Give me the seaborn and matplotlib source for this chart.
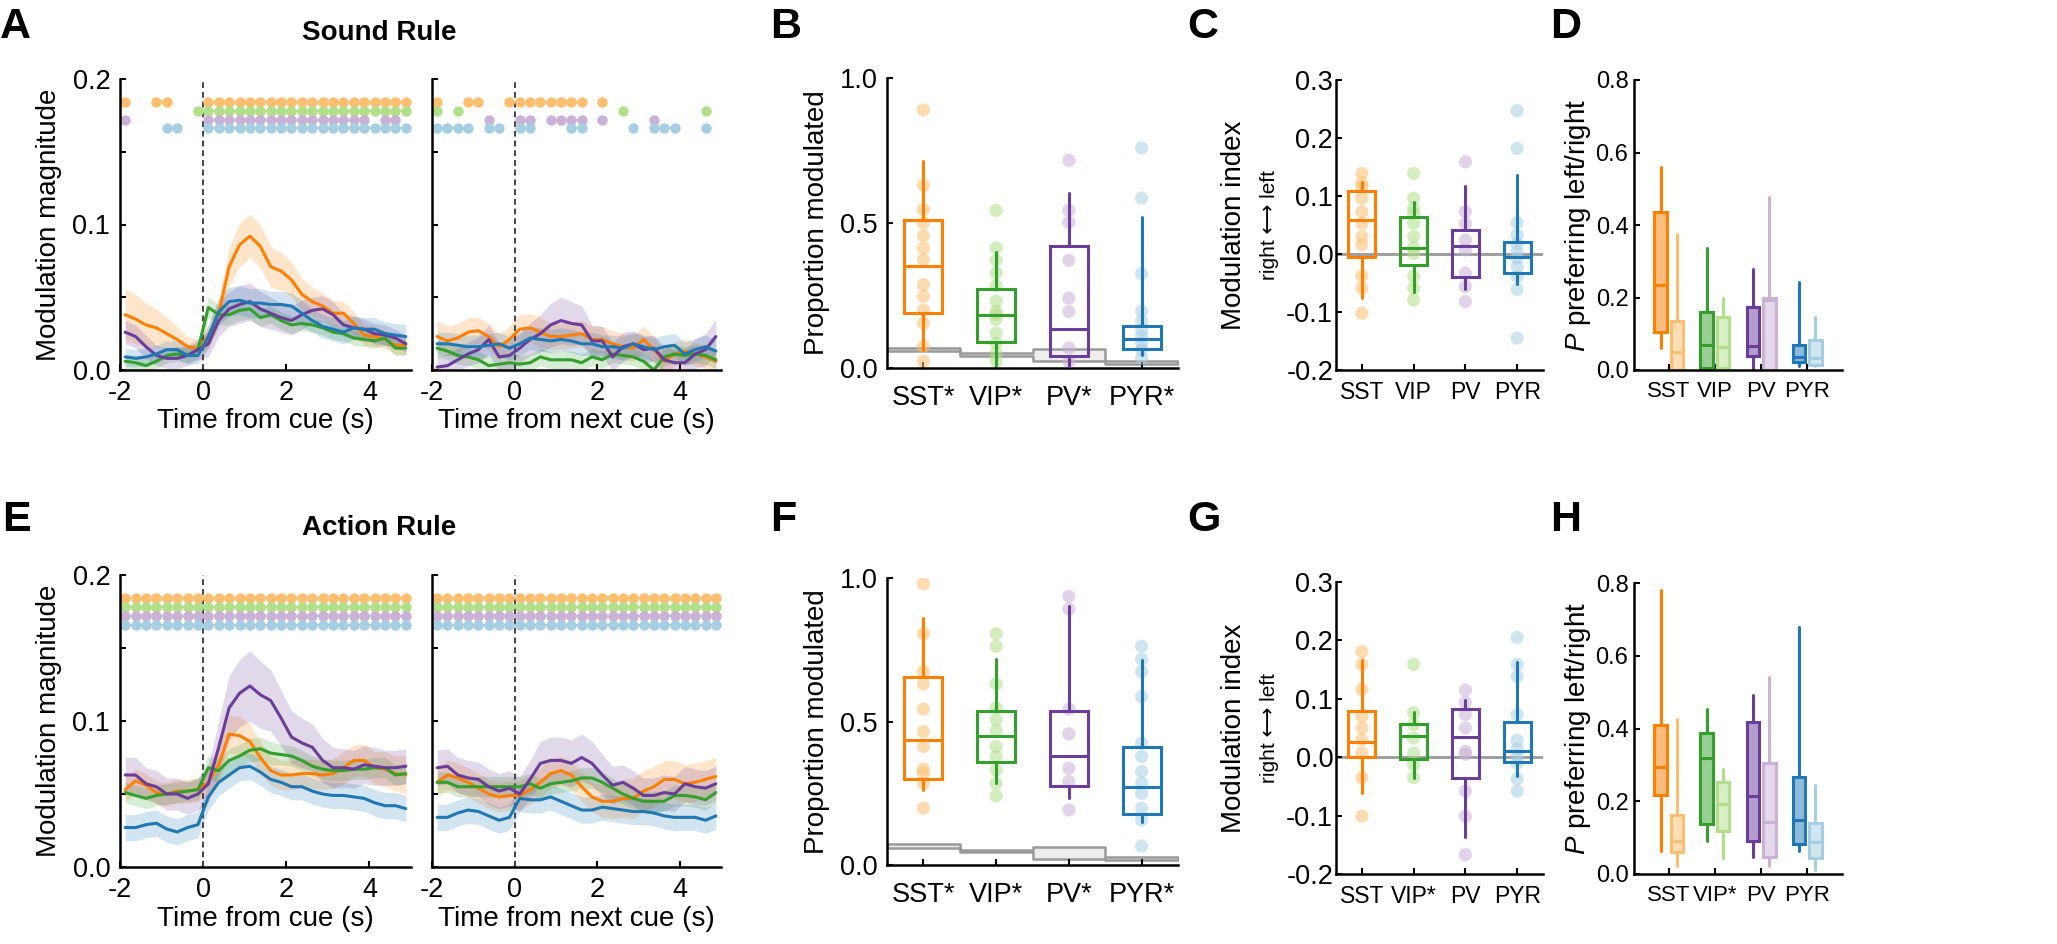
import numpy as np
import pandas as pd
import matplotlib
matplotlib.use("Agg")
import matplotlib.pyplot as plt
from matplotlib.colors import to_rgba
from matplotlib.ticker import FixedLocator
import seaborn as sns

cells = ["SST", "VIP", "PV", "PYR"]
dark = ["#ff7f00", "#33a02c", "#6a3d9a", "#1f78b4"]
light = ["#fdbf6f", "#b2df8a", "#cab2d6", "#a6cee3"]

# time bins (s), 0.25 s bins
t = np.arange(-1.875, 5.0, 0.25)

# ---------------- A: sound rule, aligned to cue ----------------
a_sst = [0.038, 0.035, 0.031, 0.029, 0.025, 0.021, 0.016, 0.015, 0.023, 0.039, 0.071, 0.086, 0.092, 0.085,
         0.071, 0.068, 0.062, 0.052, 0.047, 0.044, 0.039, 0.039, 0.032, 0.024, 0.023, 0.021, 0.017, 0.017]
a_vip = [0.006, 0.005, 0.003, 0.006, 0.010, 0.011, 0.010, 0.014, 0.043, 0.038, 0.038, 0.041, 0.042, 0.036,
         0.038, 0.034, 0.031, 0.032, 0.031, 0.029, 0.026, 0.025, 0.022, 0.021, 0.020, 0.022, 0.015, 0.015]
a_pv = [0.026, 0.023, 0.016, 0.010, 0.008, 0.008, 0.010, 0.014, 0.018, 0.034, 0.042, 0.045, 0.047, 0.042,
        0.039, 0.036, 0.034, 0.038, 0.041, 0.042, 0.038, 0.031, 0.029, 0.028, 0.025, 0.024, 0.022, 0.018]
a_pyr = [0.009, 0.008, 0.009, 0.011, 0.014, 0.014, 0.010, 0.010, 0.023, 0.040, 0.047, 0.048, 0.046, 0.046,
         0.045, 0.045, 0.044, 0.039, 0.034, 0.030, 0.028, 0.026, 0.029, 0.028, 0.028, 0.025, 0.024, 0.023]
a_sst_err = [0.018, 0.017, 0.015, 0.013, 0.011, 0.009, 0.007, 0.006, 0.008, 0.010, 0.013, 0.015, 0.015, 0.015,
             0.014, 0.013, 0.012, 0.011, 0.010, 0.009, 0.009, 0.008, 0.008, 0.007, 0.007, 0.006, 0.006, 0.006]
a_vip_err = [0.005, 0.005, 0.005, 0.005, 0.005, 0.005, 0.005, 0.006, 0.007, 0.007, 0.007, 0.007, 0.007, 0.006,
             0.006, 0.006, 0.006, 0.005, 0.005, 0.005, 0.005, 0.005, 0.005, 0.005, 0.005, 0.005, 0.005, 0.005]
a_pv_err = [0.008, 0.008, 0.008, 0.007, 0.007, 0.007, 0.007, 0.007, 0.009, 0.011, 0.012, 0.013, 0.013, 0.012,
            0.011, 0.010, 0.010, 0.010, 0.009, 0.009, 0.009, 0.008, 0.008, 0.007, 0.007, 0.007, 0.006, 0.006]
a_pyr_err = [0.006, 0.006, 0.006, 0.006, 0.006, 0.006, 0.006, 0.006, 0.008, 0.009, 0.010, 0.010, 0.010, 0.010,
             0.009, 0.009, 0.009, 0.009, 0.008, 0.008, 0.008, 0.008, 0.008, 0.008, 0.008, 0.008, 0.008, 0.008]
a_sig_sst = [0, 3, 4] + list(range(8, 28))
a_sig_vip = list(range(7, 28))
a_sig_pv = [0] + list(range(8, 24)) + [25, 26]
a_sig_pyr = [4, 5] + list(range(8, 28))

# ---------------- A: sound rule, aligned to next cue ----------------
a2_sst = [0.023, 0.020, 0.022, 0.026, 0.027, 0.023, 0.016, 0.021, 0.028, 0.029, 0.026, 0.023, 0.023, 0.024,
          0.025, 0.021, 0.021, 0.018, 0.016, 0.015, 0.021, 0.014, 0.006, 0.011, 0.013, 0.011, 0.009, 0.006]
a2_vip = [0.015, 0.013, 0.010, 0.009, 0.007, 0.003, 0.004, 0.005, 0.004, 0.005, 0.009, 0.007, 0.007, 0.007,
          0.005, 0.009, 0.007, 0.011, 0.010, 0.009, 0.006, 0.000, 0.009, 0.011, 0.010, 0.011, 0.010, 0.007]
a2_pv = [0.002, 0.003, 0.007, 0.011, 0.014, 0.021, 0.009, 0.010, 0.015, 0.021, 0.025, 0.031, 0.034, 0.032,
         0.031, 0.020, 0.020, 0.009, 0.016, 0.018, 0.014, 0.015, 0.007, 0.005, 0.005, 0.011, 0.014, 0.023]
a2_pyr = [0.018, 0.018, 0.017, 0.016, 0.016, 0.017, 0.018, 0.015, 0.018, 0.022, 0.021, 0.020, 0.021, 0.020,
          0.018, 0.018, 0.016, 0.016, 0.015, 0.018, 0.016, 0.014, 0.016, 0.017, 0.011, 0.014, 0.016, 0.013]
a2_sst_err = [0.011, 0.010, 0.010, 0.010, 0.009, 0.009, 0.009, 0.009, 0.010, 0.010, 0.010, 0.009, 0.009, 0.009,
              0.009, 0.009, 0.009, 0.009, 0.009, 0.009, 0.009, 0.009, 0.008, 0.008, 0.008, 0.008, 0.008, 0.008]
a2_vip_err = [0.006, 0.006, 0.006, 0.006, 0.006, 0.006, 0.006, 0.006, 0.006, 0.006, 0.006, 0.006, 0.006, 0.006,
              0.006, 0.006, 0.006, 0.006, 0.006, 0.006, 0.006, 0.006, 0.006, 0.006, 0.006, 0.006, 0.006, 0.006]
a2_pv_err = [0.008, 0.008, 0.008, 0.008, 0.009, 0.010, 0.010, 0.010, 0.010, 0.011, 0.013, 0.015, 0.016, 0.015,
             0.013, 0.011, 0.010, 0.010, 0.010, 0.009, 0.009, 0.009, 0.009, 0.009, 0.009, 0.010, 0.011, 0.012]
a2_pyr_err = [0.008, 0.008, 0.008, 0.008, 0.008, 0.008, 0.008, 0.008, 0.008, 0.008, 0.008, 0.008, 0.008, 0.008,
              0.008, 0.008, 0.008, 0.008, 0.008, 0.008, 0.008, 0.008, 0.008, 0.008, 0.008, 0.008, 0.008, 0.008]
a2_sig_sst = [0, 3, 4] + list(range(7, 15)) + [16]
a2_sig_vip = [0, 2, 18, 26]
a2_sig_pv = [5, 8, 9, 11, 12, 13, 14, 16, 21]
a2_sig_pyr = [0, 1, 2, 3, 5, 6, 8, 9, 13, 14, 19, 21, 22, 23, 26]

# ---------------- E: action rule, aligned to cue ----------------
e_sst = [0.053, 0.059, 0.056, 0.051, 0.050, 0.052, 0.052, 0.053, 0.058, 0.070, 0.091, 0.090, 0.086, 0.075,
         0.066, 0.063, 0.063, 0.064, 0.064, 0.063, 0.064, 0.068, 0.073, 0.073, 0.068, 0.067, 0.064, 0.063]
e_vip = [0.051, 0.049, 0.047, 0.049, 0.050, 0.051, 0.052, 0.053, 0.068, 0.066, 0.073, 0.076, 0.080, 0.081,
         0.078, 0.077, 0.076, 0.073, 0.069, 0.067, 0.066, 0.066, 0.067, 0.067, 0.068, 0.068, 0.063, 0.064]
e_pv = [0.063, 0.063, 0.057, 0.055, 0.050, 0.050, 0.047, 0.050, 0.057, 0.082, 0.109, 0.119, 0.124, 0.118,
        0.114, 0.102, 0.089, 0.085, 0.082, 0.073, 0.068, 0.068, 0.067, 0.070, 0.069, 0.068, 0.068, 0.069]
e_pyr = [0.027, 0.027, 0.029, 0.030, 0.026, 0.024, 0.027, 0.029, 0.048, 0.058, 0.063, 0.068, 0.069, 0.065,
         0.060, 0.058, 0.055, 0.055, 0.052, 0.050, 0.049, 0.049, 0.048, 0.047, 0.044, 0.042, 0.042, 0.040]
e_sst_err = [0.008, 0.008, 0.008, 0.008, 0.008, 0.008, 0.008, 0.008, 0.009, 0.011, 0.013, 0.013, 0.012, 0.011,
             0.010, 0.010, 0.010, 0.010, 0.010, 0.010, 0.010, 0.011, 0.011, 0.011, 0.011, 0.012, 0.012, 0.013]
e_vip_err = [0.007, 0.007, 0.007, 0.007, 0.007, 0.007, 0.007, 0.007, 0.008, 0.008, 0.008, 0.008, 0.008, 0.008,
             0.008, 0.007, 0.007, 0.007, 0.007, 0.007, 0.007, 0.007, 0.007, 0.007, 0.007, 0.007, 0.007, 0.007]
e_pv_err = [0.012, 0.012, 0.011, 0.011, 0.011, 0.011, 0.011, 0.011, 0.013, 0.018, 0.022, 0.023, 0.024, 0.023,
            0.021, 0.019, 0.018, 0.017, 0.016, 0.015, 0.014, 0.013, 0.013, 0.013, 0.013, 0.012, 0.012, 0.012]
e_pyr_err = [0.009, 0.009, 0.009, 0.009, 0.009, 0.009, 0.009, 0.009, 0.009, 0.009, 0.009, 0.009, 0.009, 0.009,
             0.009, 0.009, 0.009, 0.009, 0.009, 0.009, 0.009, 0.009, 0.009, 0.009, 0.009, 0.009, 0.009, 0.009]
e_sig_sst = list(range(28))
e_sig_vip = list(range(28))
e_sig_pv = list(range(28))
e_sig_pyr = list(range(28))

# ---------------- E: action rule, aligned to next cue ----------------
e2_sst = [0.058, 0.063, 0.061, 0.058, 0.054, 0.050, 0.048, 0.049, 0.049, 0.053, 0.058, 0.064, 0.066, 0.063,
          0.055, 0.048, 0.045, 0.045, 0.047, 0.047, 0.052, 0.055, 0.060, 0.060, 0.057, 0.058, 0.060, 0.062]
e2_vip = [0.058, 0.058, 0.055, 0.055, 0.055, 0.055, 0.055, 0.055, 0.055, 0.057, 0.054, 0.057, 0.058, 0.059,
          0.061, 0.061, 0.058, 0.054, 0.050, 0.047, 0.045, 0.045, 0.045, 0.049, 0.049, 0.048, 0.046, 0.051]
e2_pv = [0.068, 0.069, 0.063, 0.061, 0.060, 0.055, 0.052, 0.054, 0.050, 0.060, 0.071, 0.073, 0.073, 0.071,
         0.075, 0.071, 0.063, 0.056, 0.058, 0.054, 0.049, 0.049, 0.051, 0.050, 0.057, 0.055, 0.054, 0.057]
e2_pyr = [0.034, 0.034, 0.037, 0.039, 0.038, 0.035, 0.032, 0.034, 0.047, 0.046, 0.046, 0.048, 0.045, 0.042,
          0.039, 0.039, 0.041, 0.040, 0.039, 0.038, 0.038, 0.037, 0.035, 0.034, 0.034, 0.034, 0.032, 0.035]
e2_sst_err = [0.010, 0.010, 0.010, 0.010, 0.010, 0.010, 0.010, 0.010, 0.010, 0.010, 0.010, 0.010, 0.010, 0.010,
              0.010, 0.010, 0.011, 0.012, 0.013, 0.014, 0.014, 0.014, 0.013, 0.013, 0.013, 0.013, 0.013, 0.013]
e2_vip_err = [0.007, 0.007, 0.007, 0.007, 0.007, 0.007, 0.007, 0.007, 0.007, 0.007, 0.007, 0.007, 0.007, 0.007,
              0.007, 0.007, 0.007, 0.007, 0.007, 0.007, 0.007, 0.007, 0.007, 0.007, 0.007, 0.007, 0.007, 0.007]
e2_pv_err = [0.012, 0.012, 0.012, 0.012, 0.012, 0.012, 0.012, 0.012, 0.012, 0.013, 0.015, 0.016, 0.016, 0.016,
             0.016, 0.015, 0.014, 0.013, 0.012, 0.012, 0.012, 0.012, 0.012, 0.012, 0.012, 0.012, 0.012, 0.012]
e2_pyr_err = [0.009, 0.009, 0.009, 0.009, 0.009, 0.009, 0.009, 0.009, 0.009, 0.009, 0.009, 0.009, 0.009, 0.009,
              0.009, 0.009, 0.009, 0.009, 0.009, 0.009, 0.009, 0.009, 0.009, 0.009, 0.009, 0.009, 0.009, 0.009]
e2_sig_sst = list(range(28))
e2_sig_vip = list(range(28))
e2_sig_pv = list(range(28))
e2_sig_pyr = list(range(28))

# y level of significance dot rows (SST, VIP, PV, PYR)
sig_levels = [0.184, 0.178, 0.172, 0.166]

# ---------------- B: proportion modulated, sound rule ----------------
b_pts_sst = [0.89, 0.63, 0.546, 0.50, 0.456, 0.414, 0.374, 0.287, 0.247, 0.20, 0.155, 0.075, 0.023]
b_pts_vip = [0.543, 0.414, 0.371, 0.328, 0.284, 0.23, 0.195, 0.184, 0.167, 0.121, 0.086, 0.052, 0.023]
b_pts_pv = [0.716, 0.544, 0.502, 0.371, 0.241, 0.195, 0.069, 0.023]
b_pts_pyr = [0.759, 0.586, 0.325, 0.195, 0.161, 0.132, 0.109, 0.086, 0.063, 0.034]
b_q1 = [0.19, 0.089, 0.043, 0.066]
b_med = [0.353, 0.184, 0.134, 0.10]
b_q3 = [0.509, 0.272, 0.42, 0.144]
b_lo = [0.063, 0.011, 0.0, 0.046]
b_hi = [0.713, 0.40, 0.603, 0.521]
b_chance_lo = [0.057, 0.042, 0.023, 0.015]
b_chance_hi = [0.069, 0.052, 0.065, 0.025]
b_labels = ["SST*", "VIP*", "PV*", "PYR*"]

# ---------------- C: modulation index, sound rule ----------------
c_pts_sst = [0.139, 0.122, 0.116, 0.096, 0.073, 0.053, 0.03, 0.016, -0.038, -0.059, -0.102]
c_pts_vip = [0.139, 0.096, 0.079, 0.07, 0.053, 0.03, 0.011, 0.001, -0.039, -0.059, -0.079]
c_pts_pv = [0.159, 0.073, 0.052, 0.024, 0.007, -0.033, -0.056, -0.082]
c_pts_pyr = [0.247, 0.182, 0.054, 0.033, 0.018, 0.004, -0.007, -0.022, -0.039, -0.061, -0.145]
c_q1 = [-0.006, -0.019, -0.039, -0.032]
c_med = [0.059, 0.011, 0.013, -0.006]
c_q3 = [0.109, 0.064, 0.041, 0.020]
c_lo = [-0.076, -0.065, -0.061, -0.052]
c_hi = [0.125, 0.089, 0.118, 0.137]
c_labels = ["SST", "VIP", "PV", "PYR"]

# ---------------- D: P preferring left/right, sound rule ----------------
d_left_q1 = [0.106, 0.005, 0.04, 0.021]
d_left_med = [0.234, 0.069, 0.066, 0.035]
d_left_q3 = [0.437, 0.159, 0.175, 0.069]
d_left_lo = [0.06, 0.003, 0.0, 0.011]
d_left_hi = [0.561, 0.336, 0.28, 0.244]
d_right_q1 = [0.0, 0.005, 0.0, 0.014]
d_right_med = [0.051, 0.063, 0.193, 0.032]
d_right_q3 = [0.136, 0.147, 0.20, 0.083]
d_right_lo = [0.0, 0.0, 0.0, 0.011]
d_right_hi = [0.374, 0.198, 0.478, 0.145]
d_labels = ["SST", "VIP", "PV", "PYR"]

# ---------------- F: proportion modulated, action rule ----------------
f_pts_sst = [0.98, 0.806, 0.674, 0.631, 0.543, 0.465, 0.413, 0.334, 0.32, 0.285, 0.198]
f_pts_vip = [0.806, 0.762, 0.631, 0.547, 0.506, 0.469, 0.413, 0.378, 0.331, 0.285, 0.241]
f_pts_pv = [0.936, 0.892, 0.543, 0.457, 0.337, 0.291, 0.192]
f_pts_pyr = [0.762, 0.717, 0.674, 0.587, 0.424, 0.378, 0.326, 0.285, 0.25, 0.198, 0.157, 0.066]
f_q1 = [0.299, 0.36, 0.276, 0.178]
f_med = [0.436, 0.448, 0.38, 0.271]
f_q3 = [0.655, 0.538, 0.538, 0.41]
f_lo = [0.262, 0.285, 0.233, 0.151]
f_hi = [0.86, 0.719, 0.903, 0.715]
f_chance_lo = [0.060, 0.046, 0.020, 0.017]
f_chance_hi = [0.073, 0.052, 0.064, 0.029]
f_labels = ["SST*", "VIP*", "PV*", "PYR*"]

# ---------------- G: modulation index, action rule ----------------
g_pts_sst = [0.181, 0.159, 0.116, 0.07, 0.05, 0.03, 0.007, -0.035, -0.101]
g_pts_vip = [0.159, 0.076, 0.056, 0.033, 0.007, -0.013, -0.035]
g_pts_pv = [0.115, 0.094, 0.073, 0.05, 0.01, 0.005, -0.058, -0.101, -0.167]
g_pts_pyr = [0.205, 0.159, 0.138, 0.073, 0.029, 0.014, 0.002, -0.01, -0.037, -0.058]
g_q1 = [0.0, -0.003, -0.035, -0.009]
g_med = [0.026, 0.036, 0.035, 0.010]
g_q3 = [0.079, 0.056, 0.083, 0.061]
g_lo = [-0.062, -0.035, -0.137, -0.033]
g_hi = [0.167, 0.078, 0.098, 0.163]
g_labels = ["SST", "VIP*", "PV", "PYR"]

# ---------------- H: P preferring left/right, action rule ----------------
h_left_q1 = [0.216, 0.137, 0.09, 0.082]
h_left_med = [0.295, 0.32, 0.215, 0.149]
h_left_q3 = [0.41, 0.387, 0.419, 0.268]
h_left_lo = [0.064, 0.09, 0.046, 0.062]
h_left_hi = [0.782, 0.453, 0.492, 0.679]
h_right_q1 = [0.06, 0.117, 0.048, 0.044]
h_right_med = [0.092, 0.193, 0.142, 0.087]
h_right_q3 = [0.161, 0.254, 0.306, 0.14]
h_right_lo = [0.023, 0.044, 0.023, 0.012]
h_right_hi = [0.425, 0.29, 0.542, 0.245]
h_labels = ["SST", "VIP*", "PV", "PYR"]

# ---------------- style ----------------
sns.set_theme(style="ticks")
plt.rcParams["font.family"] = ["Liberation Sans", "DejaVu Sans"]
plt.rcParams.update({
    "axes.unicode_minus": False,
    "axes.edgecolor": "black", "axes.labelcolor": "black", "text.color": "black",
    "xtick.color": "black", "ytick.color": "black",
    "xtick.direction": "in", "ytick.direction": "in",
    "xtick.major.size": 4, "ytick.major.size": 4,
    "ytick.minor.size": 4, "ytick.minor.width": 1.5,
    "xtick.major.width": 1.5, "ytick.major.width": 1.5,
    "xtick.major.pad": 7, "ytick.major.pad": 7,
    "axes.linewidth": 1.8,
    "xtick.labelsize": 19.5, "ytick.labelsize": 19.5,
    "axes.labelsize": 20,
    "mathtext.fontset": "custom",
    "mathtext.it": "Liberation Sans:italic",
    "mathtext.rm": "Liberation Sans",
})

W, H = 2057, 944
fig = plt.figure(figsize=(W / 100, H / 100), dpi=100)


def add_ax(x0, x1, ytop, ybot):
    return fig.add_axes([x0 / W, 1 - ybot / H, (x1 - x0) / W, (ybot - ytop) / H])


def time_panel(ax, means, errs, sigs, xlabel, ylabel):
    for m, e, c in zip(means, errs, dark):
        m = np.array(m)
        e = np.array(e)
        ax.fill_between(t, m - e, m + e, color=c, alpha=0.2, lw=0)
        sns.lineplot(x=t, y=m, color=c, lw=2.2, ax=ax)
    ax.axvline(0, color="#444444", ls=(0, (3, 2)), lw=1.4, zorder=1)
    for rows, lev, c in zip(sigs, sig_levels, light):
        y = np.full(len(t), np.nan)
        y[rows] = lev
        ax.plot(t, y, "o-", color=c, ms=7.5, lw=1.5, mew=0)
    ax.set_xlim(-2, 5)
    ax.set_ylim(0, 0.2)
    ax.set_xticks([-2, 0, 2, 4])
    ax.set_yticks([0, 0.1, 0.2])
    ax.yaxis.set_minor_locator(FixedLocator([0.05, 0.15]))
    if ylabel:
        ax.set_yticklabels(["0.0", "0.1", "0.2"])
        ax.set_ylabel("Modulation magnitude")
        ax.yaxis.set_label_coords(-0.2, 0.5)
    else:
        ax.set_yticklabels([])
    ax.set_xlabel(xlabel, labelpad=2)
    sns.despine(ax=ax)


def box_panel(ax, pts, q1, med, q3, lo, hi, labels):
    df = pd.DataFrame({"cell": np.repeat(cells, [len(p) for p in pts]),
                       "val": np.concatenate(pts)})
    sns.stripplot(data=df, x="cell", y="val", hue="cell", order=cells, hue_order=cells,
                  palette=light, jitter=False, size=9.5, alpha=0.55, linewidth=0,
                  legend=False, ax=ax, zorder=1)
    stats = [dict(q1=q1[i], med=med[i], q3=q3[i], whislo=lo[i], whishi=hi[i], fliers=[])
             for i in range(4)]
    bp = ax.bxp(stats, positions=range(4), widths=0.52, showcaps=False, showfliers=False,
                patch_artist=True)
    for i, c in enumerate(dark):
        bp["boxes"][i].set(facecolor="none", edgecolor=c, lw=2.2, zorder=3)
        bp["medians"][i].set(color=c, lw=2.2, zorder=3)
        for w in bp["whiskers"][2 * i:2 * i + 2]:
            w.set(color=c, lw=2.2, zorder=3)
    ax.set_xlim(-0.5, 3.5)
    ax.set_xticks(range(4))
    ax.set_xticklabels(labels)
    ax.set_xlabel("")
    sns.despine(ax=ax)


def chance_band(ax, lo, hi):
    edges = np.arange(len(lo) + 1) - 0.5
    ax.fill_between(edges, lo + lo[-1:], hi + hi[-1:], step="post",
                    facecolor="#eeeeee", edgecolor="#999999", lw=1.8, zorder=0.5)


def prop_panel(ax, pts, q1, med, q3, lo, hi, clo, chi, labels):
    chance_band(ax, clo, chi)
    box_panel(ax, pts, q1, med, q3, lo, hi, labels)
    ax.set_ylim(0, 1)
    ax.set_yticks([0, 0.5, 1.0])
    ax.set_yticklabels(["0.0", "0.5", "1.0"])
    ax.tick_params(axis="x", pad=12)
    ax.set_ylabel("Proportion modulated")
    ax.yaxis.set_label_coords(-0.196, 0.5)


def index_panel(ax, pts, q1, med, q3, lo, hi, labels):
    ax.axhline(0, color="#999999", lw=2, zorder=0.5)
    box_panel(ax, pts, q1, med, q3, lo, hi, labels)
    ax.tick_params(axis="x", labelsize=16.5, pad=8)
    ax.tick_params(axis="y", pad=2)
    ax.set_ylim(-0.2, 0.3)
    ax.set_yticks([-0.2, -0.1, 0, 0.1, 0.2, 0.3])
    ax.set_yticklabels(["-0.2", "-0.1", "0.0", "0.1", "0.2", "0.3"])
    ax.set_ylabel("Modulation index")
    ax.yaxis.set_label_coords(-0.43, 0.5)
    ax.text(-0.319, 0.5, "right \u27f7 left", rotation=90, transform=ax.transAxes,
            ha="center", va="center", fontsize=15)


def pref_panel(ax, lq1, lmed, lq3, llo, lhi, rq1, rmed, rq3, rlo, rhi, labels):
    pos = np.arange(4)
    for q1, med, q3, lo, hi, cols, off in [(lq1, lmed, lq3, llo, lhi, dark, -0.18),
                                            (rq1, rmed, rq3, rlo, rhi, light, 0.18)]:
        stats = [dict(q1=q1[i], med=med[i], q3=q3[i], whislo=lo[i], whishi=hi[i], fliers=[])
                 for i in range(4)]
        bp = ax.bxp(stats, positions=pos + off, widths=0.27, showcaps=False, showfliers=False,
                    patch_artist=True)
        for i, c in enumerate(cols):
            bp["boxes"][i].set(facecolor=to_rgba(c, 0.5), edgecolor=c, lw=2.2)
            bp["medians"][i].set(color=c, lw=2.2)
            for w in bp["whiskers"][2 * i:2 * i + 2]:
                w.set(color=c, lw=2.2)
    ax.set_xlim(-0.76, 3.76)
    ax.set_xticks(pos)
    ax.set_xticklabels(labels)
    ax.set_ylim(0, 0.8)
    ax.set_yticks([0, 0.2, 0.4, 0.6, 0.8])
    ax.set_yticklabels(["0.0", "0.2", "0.4", "0.6", "0.8"])
    ax.tick_params(axis="x", labelsize=16, pad=8)
    ax.tick_params(axis="y", labelsize=17, pad=4)
    ax.set_ylabel("$P$ preferring left/right")
    ax.yaxis.set_label_coords(-0.197, 0.5)
    sns.despine(ax=ax)


# ---------------- top row ----------------
ax = add_ax(120, 411, 79, 370)
time_panel(ax, [a_sst, a_vip, a_pv, a_pyr], [a_sst_err, a_vip_err, a_pv_err, a_pyr_err],
           [a_sig_sst, a_sig_vip, a_sig_pv, a_sig_pyr], "Time from cue (s)", True)
ax = add_ax(432, 721, 79, 370)
time_panel(ax, [a2_sst, a2_vip, a2_pv, a2_pyr], [a2_sst_err, a2_vip_err, a2_pv_err, a2_pyr_err],
           [a2_sig_sst, a2_sig_vip, a2_sig_pv, a2_sig_pyr], "Time from next cue (s)", False)
ax = add_ax(887, 1178, 78, 368)
prop_panel(ax, [b_pts_sst, b_pts_vip, b_pts_pv, b_pts_pyr], b_q1, b_med, b_q3, b_lo, b_hi,
           b_chance_lo, b_chance_hi, b_labels)
ax = add_ax(1336, 1543, 80, 370)
index_panel(ax, [c_pts_sst, c_pts_vip, c_pts_pv, c_pts_pyr], c_q1, c_med, c_q3, c_lo, c_hi, c_labels)
ax = add_ax(1634, 1842, 80, 370)
pref_panel(ax, d_left_q1, d_left_med, d_left_q3, d_left_lo, d_left_hi,
           d_right_q1, d_right_med, d_right_q3, d_right_lo, d_right_hi, d_labels)

# ---------------- bottom row ----------------
ax = add_ax(120, 411, 575, 867)
time_panel(ax, [e_sst, e_vip, e_pv, e_pyr], [e_sst_err, e_vip_err, e_pv_err, e_pyr_err],
           [e_sig_sst, e_sig_vip, e_sig_pv, e_sig_pyr], "Time from cue (s)", True)
ax = add_ax(432, 721, 575, 867)
time_panel(ax, [e2_sst, e2_vip, e2_pv, e2_pyr], [e2_sst_err, e2_vip_err, e2_pv_err, e2_pyr_err],
           [e2_sig_sst, e2_sig_vip, e2_sig_pv, e2_sig_pyr], "Time from next cue (s)", False)
ax = add_ax(887, 1178, 578, 865)
prop_panel(ax, [f_pts_sst, f_pts_vip, f_pts_pv, f_pts_pyr], f_q1, f_med, f_q3, f_lo, f_hi,
           f_chance_lo, f_chance_hi, f_labels)
ax = add_ax(1336, 1543, 582, 874)
index_panel(ax, [g_pts_sst, g_pts_vip, g_pts_pv, g_pts_pyr], g_q1, g_med, g_q3, g_lo, g_hi, g_labels)
ax = add_ax(1634, 1842, 583, 874)
pref_panel(ax, h_left_q1, h_left_med, h_left_q3, h_left_lo, h_left_hi,
           h_right_q1, h_right_med, h_right_q3, h_right_lo, h_right_hi, h_labels)

# ---------------- letters and titles ----------------
for letter, x, y in [("A", 0, 27), ("B", 770, 27), ("C", 1187, 27), ("D", 1550, 27),
                     ("E", 2, 520), ("F", 770, 520), ("G", 1187, 520), ("H", 1550, 520)]:
    fig.text(x / W, 1 - y / H, letter, fontsize=31, fontweight="bold", ha="left", va="center")
fig.text(379 / W, 1 - 33 / H, "Sound Rule", fontsize=20, fontweight="bold", ha="center", va="center")
fig.text(379 / W, 1 - 528 / H, "Action Rule", fontsize=20, fontweight="bold", ha="center", va="center")

fig.savefig("out.png", dpi=100)
